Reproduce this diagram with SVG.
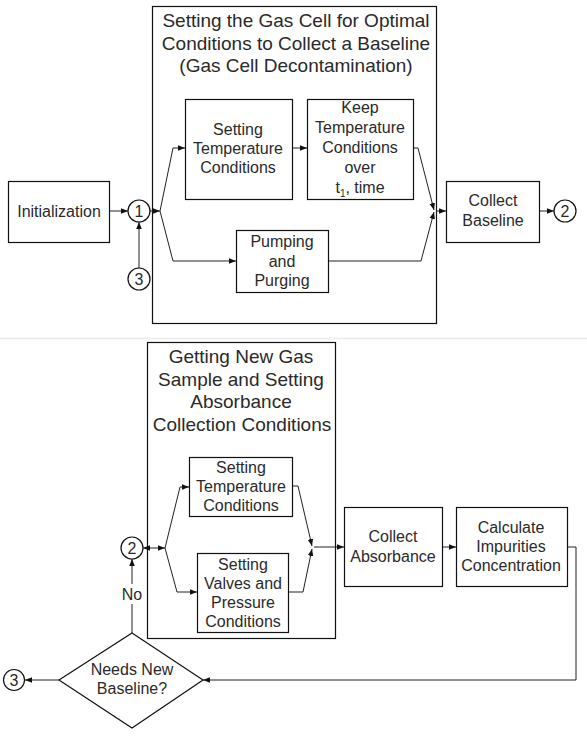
<svg xmlns="http://www.w3.org/2000/svg" width="587" height="738" viewBox="0 0 587 738">
<style>
.box{fill:#fff;stroke:#111;stroke-width:1.2}
.cont{fill:none;stroke:#111;stroke-width:1.2}
.ln{fill:none;stroke:#222;stroke-width:1}
.t{font-family:"Liberation Sans",Arial,sans-serif;font-size:16px;fill:#2a2a2a;text-anchor:middle}
.ti{font-family:"Liberation Sans",Arial,sans-serif;font-size:19px;fill:#2a2a2a;text-anchor:middle}
</style>
<defs>
<marker id="arr" viewBox="0 0 10 10" refX="10" refY="5" markerWidth="7" markerHeight="7" markerUnits="userSpaceOnUse" orient="auto-start-reverse"><path d="M0,1 L10,5 L0,9 z" fill="#111"/></marker>
</defs>
<rect width="587" height="738" fill="#fff"/>
<line x1="0" y1="338.5" x2="587" y2="338.5" stroke="#ececec" stroke-width="1.5"/>

<g id="group-top">
<rect class="cont" x="152.5" y="6.5" width="284" height="317"/>
<text class="ti" x="296" y="27">Setting the Gas Cell for Optimal</text>
<text class="ti" x="296" y="50">Conditions to Collect a Baseline</text>
<text class="ti" x="296" y="72">(Gas Cell Decontamination)</text>
</g>
<g id="group-bottom">
<rect class="cont" x="147.5" y="342.5" width="188" height="296"/>
<text class="ti" x="241" y="363">Getting New Gas</text>
<text class="ti" x="241" y="386">Sample and Setting</text>
<text class="ti" x="241" y="408">Absorbance</text>
<text class="ti" x="242" y="431">Collection Conditions</text>
</g>

<g id="connectors">
<path class="ln" d="M109,211 L128,211" marker-end="url(#arr)"/>
<path class="ln" d="M139,268 L139,222" marker-end="url(#arr)"/>
<path class="ln" d="M150,211 L160,211" marker-end="url(#arr)"/>
<path class="ln" d="M160,211 L173,148 L185,148" marker-end="url(#arr)"/>
<path class="ln" d="M160,211 L173,261 L236,261" marker-end="url(#arr)"/>
<path class="ln" d="M292,148 L307,148" marker-end="url(#arr)"/>
<path class="ln" d="M413,148 L418,148 L434,210" marker-end="url(#arr)"/>
<path class="ln" d="M328,261 L421,261 L434,212" marker-end="url(#arr)"/>
<path class="ln" d="M436,211 L446,211" marker-end="url(#arr)"/>
<path class="ln" d="M539,211 L554,211" marker-end="url(#arr)"/>

<path class="ln" d="M143,548 L165,548" marker-start="url(#arr)" marker-end="url(#arr)"/>
<path class="ln" d="M165,548 L180,487 L189,487" marker-end="url(#arr)"/>
<path class="ln" d="M165,548 L177,592 L197,592" marker-end="url(#arr)"/>
<path class="ln" d="M292,486 L298,486 L312,546" marker-end="url(#arr)"/>
<path class="ln" d="M288,592 L303,592 L312,549" marker-end="url(#arr)"/>
<path class="ln" d="M314,547 L344,547" marker-end="url(#arr)"/>
<path class="ln" d="M442,547 L456,547" marker-end="url(#arr)"/>
<path class="ln" d="M567,547 L576,547 L576,680 L203,680" marker-end="url(#arr)"/>
<path class="ln" d="M132,633 L132,559" marker-end="url(#arr)"/>
<path class="ln" d="M59,680 L25,680" marker-end="url(#arr)"/>
<rect x="120" y="584" width="24" height="20" fill="#fff"/>
<text class="t" x="132" y="600">No</text>
</g>

<g id="init">
<rect class="box" x="8.5" y="181.5" width="101" height="61"/>
<text class="t" x="59" y="217">Initialization</text>
</g>
<g id="c1">
<circle cx="139" cy="211" r="11" fill="#fff" stroke="#111" stroke-width="1.2"/>
<text class="t" x="139" y="217">1</text>
</g>
<g id="c3a">
<circle cx="139" cy="279" r="11" fill="#fff" stroke="#111" stroke-width="1.2"/>
<text class="t" x="139" y="285">3</text>
</g>
<g id="settemp1">
<rect class="box" x="185.5" y="99.5" width="107" height="100"/>
<text class="t" x="238" y="135">Setting</text>
<text class="t" x="238" y="154">Temperature</text>
<text class="t" x="238" y="173">Conditions</text>
</g>
<g id="keeptemp">
<rect class="box" x="307.5" y="99.5" width="106" height="100"/>
<text class="t" x="360" y="113">Keep</text>
<text class="t" x="360" y="133">Temperature</text>
<text class="t" x="360" y="153">Conditions</text>
<text class="t" x="360" y="173">over</text>
<text class="t" x="360" y="193">t<tspan font-size="10" dy="4">1</tspan><tspan dy="-4">, time</tspan></text>
</g>
<g id="pumping">
<rect class="box" x="236.5" y="230.5" width="92" height="62"/>
<text class="t" x="282" y="247">Pumping</text>
<text class="t" x="282" y="267">and</text>
<text class="t" x="282" y="286">Purging</text>
</g>
<g id="collectbase">
<rect class="box" x="446.5" y="181.5" width="93" height="61"/>
<text class="t" x="493" y="206">Collect</text>
<text class="t" x="493" y="226">Baseline</text>
</g>
<g id="c2a">
<circle cx="565" cy="211" r="11" fill="#fff" stroke="#111" stroke-width="1.2"/>
<text class="t" x="565" y="217">2</text>
</g>

<g id="c2b">
<circle cx="132" cy="548" r="11" fill="#fff" stroke="#111" stroke-width="1.2"/>
<text class="t" x="132" y="554">2</text>
</g>
<g id="settemp2">
<rect class="box" x="189.5" y="457.5" width="103" height="59"/>
<text class="t" x="241" y="473">Setting</text>
<text class="t" x="241" y="492">Temperature</text>
<text class="t" x="241" y="511">Conditions</text>
</g>
<g id="setvalves">
<rect class="box" x="197.5" y="553.5" width="91" height="79"/>
<text class="t" x="243" y="570">Setting</text>
<text class="t" x="243" y="589">Valves and</text>
<text class="t" x="243" y="608">Pressure</text>
<text class="t" x="243" y="627">Conditions</text>
</g>
<g id="collectabs">
<rect class="box" x="344.5" y="507.5" width="98" height="79"/>
<text class="t" x="393" y="542">Collect</text>
<text class="t" x="393" y="562">Absorbance</text>
</g>
<g id="calc">
<rect class="box" x="456.5" y="507.5" width="111" height="79"/>
<text class="t" x="511" y="533">Calculate</text>
<text class="t" x="511" y="552">Impurities</text>
<text class="t" x="511" y="571">Concentration</text>
</g>
<g id="decision">
<polygon points="132,633 203,680 132,728 59,680" fill="#fff" stroke="#111" stroke-width="1.2"/>
<text class="t" x="132" y="675">Needs New</text>
<text class="t" x="132" y="694">Baseline?</text>
</g>
<g id="c3b">
<circle cx="14" cy="680" r="10.5" fill="#fff" stroke="#111" stroke-width="1.2"/>
<text class="t" x="14" y="686">3</text>
</g>
</svg>
